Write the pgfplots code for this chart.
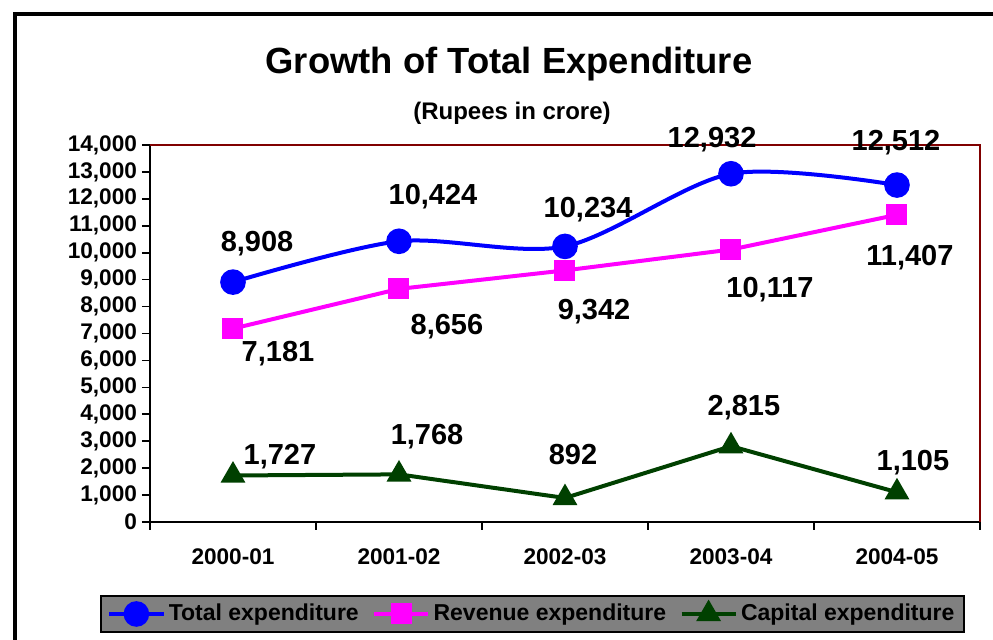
\documentclass[border=0pt]{standalone}
\usepackage{pgfplots}
\pgfplotsset{compat=1.18}
\usepackage{fontspec}
\setmainfont{Liberation Sans}
\definecolor{tgreen}{RGB}{0,64,0}
\definecolor{maroonc}{RGB}{128,0,0}
\definecolor{legbg}{RGB}{128,128,128}
\definecolor{tblue}{RGB}{0,0,255}
\definecolor{tmag}{RGB}{255,0,255}
\newcommand{\datafont}{\fontsize{14.5}{17}\selectfont\bfseries}
\newcommand{\tickfont}{\fontsize{11.3}{13}\selectfont\bfseries}
\begin{document}
\begin{tikzpicture}
\useasboundingbox (0,0) rectangle (496.5pt,320pt);
\begin{scope}
\clip (0,0) rectangle (496.5pt,320pt);
\draw[line width=2pt] (7.5pt,-5pt) -- (7.5pt,313pt) -- (505pt,313pt);
\end{scope}
\begin{axis}[
  at={(75pt,59pt)}, anchor=south west,
  scale only axis, width=415pt, height=188.5pt,
  xmin=-0.5, xmax=4.5, ymin=0, ymax=14000,
  axis x line*=bottom, axis y line*=left,
  axis line style={black, line width=1pt},
  xtick={-0.5,0.5,1.5,2.5,3.5,4.5}, x tick label as interval,
  xticklabels={2000-01,2001-02,2002-03,2003-04,2004-05},
  ytick={0,1000,...,14000},
  scaled y ticks=false,
  tick align=outside, major tick length=4pt,
  tick style={black, line width=0.8pt},
  /pgf/number format/assume math mode=true,
  /pgf/number format/1000 sep={,},
  ticklabel style={font=\tickfont},
  yticklabel style={xshift=1pt},
  xticklabel style={yshift=-6pt},
  clip=false,
  legend image code/.code={\draw[mark repeat=2,mark phase=2,#1] plot coordinates {(0pt,0pt) (13.5pt,0pt) (27pt,0pt)};},
  legend style={at={(0.461,-0.244)}, anchor=center, fill=legbg, draw=black, line width=1pt,
    legend columns=3, font=\fontsize{11.5}{13}\selectfont\bfseries,
    inner xsep=3pt, inner ysep=2pt,
    nodes={inner xsep=1.7pt},
    /tikz/every odd column/.append style={column sep=0pt},
    /tikz/every even column/.append style={column sep=5pt}},
]
\addplot[tblue, line width=2pt, smooth, mark=*, mark size=5.4pt, mark options={solid, fill=tblue}]
  coordinates {(0,8908) (1,10424) (2,10234) (3,12932) (4,12512)};
\addlegendentry{Total expenditure}
\addplot[tmag, line width=2pt, mark=square*, mark size=4.25pt, mark options={solid, fill=tmag}]
  coordinates {(0,7181) (1,8656) (2,9342) (3,10117) (4,11407)};
\addlegendentry{Revenue expenditure}
\addplot[tgreen, line width=2pt, mark=triangle*, mark size=5.2pt, mark options={solid, fill=tgreen}]
  coordinates {(0,1727) (1,1768) (2,892) (3,2815) (4,1105)};
\addlegendentry{Capital expenditure\hspace{4pt}}
\draw[maroonc, line width=1pt] (rel axis cs:0,1) -- (rel axis cs:1,1) -- (rel axis cs:1,0);
\node[font=\datafont] at (axis cs:0.145,10324) {8,908};
\node[font=\datafont] at (axis cs:1.205,12069) {10,424};
\node[font=\datafont] at (axis cs:2.139,11586) {10,234};
\node[font=\datafont] at (axis cs:2.886,14200) {12,932};
\node[font=\datafont] at (axis cs:3.994,14100) {12,512};
\node[font=\datafont] at (axis cs:0.271,6239) {7,181};
\node[font=\datafont] at (axis cs:1.289,7241) {8,656};
\node[font=\datafont] at (axis cs:2.175,7798) {9,342};
\node[font=\datafont] at (axis cs:3.235,8615) {10,117};
\node[font=\datafont] at (axis cs:4.078,9804) {11,407};
\node[font=\datafont] at (axis cs:0.283,2414) {1,727};
\node[font=\datafont] at (axis cs:1.169,3156) {1,768};
\node[font=\datafont] at (axis cs:2.048,2488) {892};
\node[font=\datafont] at (axis cs:3.078,4233) {2,815};
\node[font=\datafont] at (axis cs:4.096,2191) {1,105};
\end{axis}
\node[font=\fontsize{18.2}{21}\selectfont\bfseries] at (254.5pt,288pt) {Growth of Total Expenditure};
\node[font=\fontsize{12}{14}\selectfont\bfseries] at (256pt,263.5pt) {(Rupees in crore)};
\end{tikzpicture}
\end{document}
